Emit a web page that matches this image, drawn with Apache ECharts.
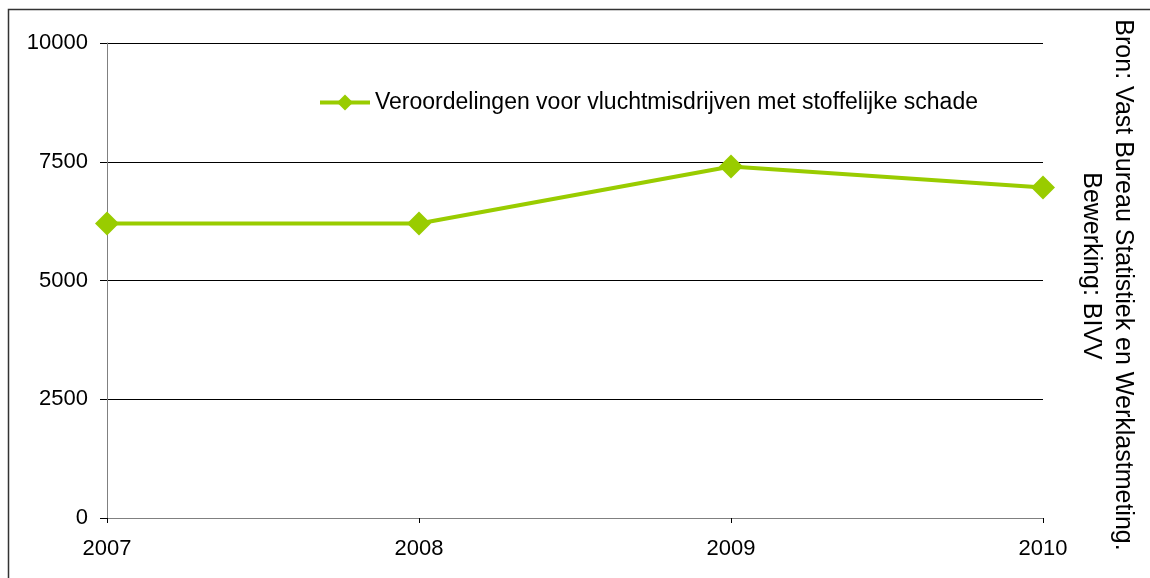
<!DOCTYPE html>
<html><head><meta charset="utf-8">
<script src="https://cdn.jsdelivr.net/npm/echarts@6/dist/echarts.min.js"></script>
<style>html,body{margin:0;padding:0;background:#fff}#c{width:1150px;height:578px}</style>
</head><body><div id="c"></div>
<script>
var categories = ['2007', '2008', '2009', '2010'];
var seriesName = 'Veroordelingen voor vluchtmisdrijven met stoffelijke schade';
var values = [6200, 6200, 7400, 6960];
var yTicks = [0, 2500, 5000, 7500, 10000];
var sourceLines = ['Bron: Vast Bureau Statistiek en Werklastmeting.', 'Bewerking: BIVV'];

var chart = echarts.init(document.getElementById('c'), null, {renderer: 'canvas'});
var font = 'Liberation Sans, Arial, sans-serif';
chart.setOption({
  animation: false,
  backgroundColor: '#fff',
  grid: {left: 107, right: 107, top: 43, bottom: 60},
  legend: {
    data: [seriesName], left: 313, top: 86, itemWidth: 50, itemHeight: 20, itemGap: 6,
    lineStyle: {width: 4},
    textStyle: {fontFamily: font, fontSize: 23, color: '#000'}
  },
  xAxis: {
    type: 'category', data: categories, boundaryGap: false,
    axisLine: {lineStyle: {color: '#808080', width: 1}},
    axisTick: {show: true, length: 5, lineStyle: {color: '#000'}},
    axisLabel: {fontFamily: font, fontSize: 22, color: '#000', margin: 20}
  },
  yAxis: {
    type: 'value', min: yTicks[0], max: yTicks[yTicks.length - 1], interval: 2500,
    axisLine: {show: true, lineStyle: {color: '#808080', width: 1}},
    axisTick: {show: true, length: 7, lineStyle: {color: '#000'}},
    splitLine: {lineStyle: {color: '#000', width: 1}},
    axisLabel: {fontFamily: font, fontSize: 22, color: '#000', margin: 19,
      formatter: function (v) { return String(v); }}
  },
  series: [{
    name: seriesName, type: 'line', data: values,
    symbol: 'diamond', symbolSize: 24,
    lineStyle: {color: '#99CC00', width: 4},
    itemStyle: {color: '#99CC00'}
  }],
  graphic: [
    {type: 'rect', shape: {x: 8.5, y: 9.5, width: 1200, height: 600}, style: {fill: 'none', stroke: '#333', lineWidth: 1.5}, silent: true},
    {type: 'text', x: 1123, y: 285, rotation: -Math.PI / 2,
     style: {text: sourceLines[0], font: '25px ' + font, fill: '#000', textAlign: 'center', textVerticalAlign: 'middle'}},
    {type: 'text', x: 1091, y: 266, rotation: -Math.PI / 2,
     style: {text: sourceLines[1], font: '25px ' + font, fill: '#000', textAlign: 'center', textVerticalAlign: 'middle'}}
  ]
});
</script></body></html>
